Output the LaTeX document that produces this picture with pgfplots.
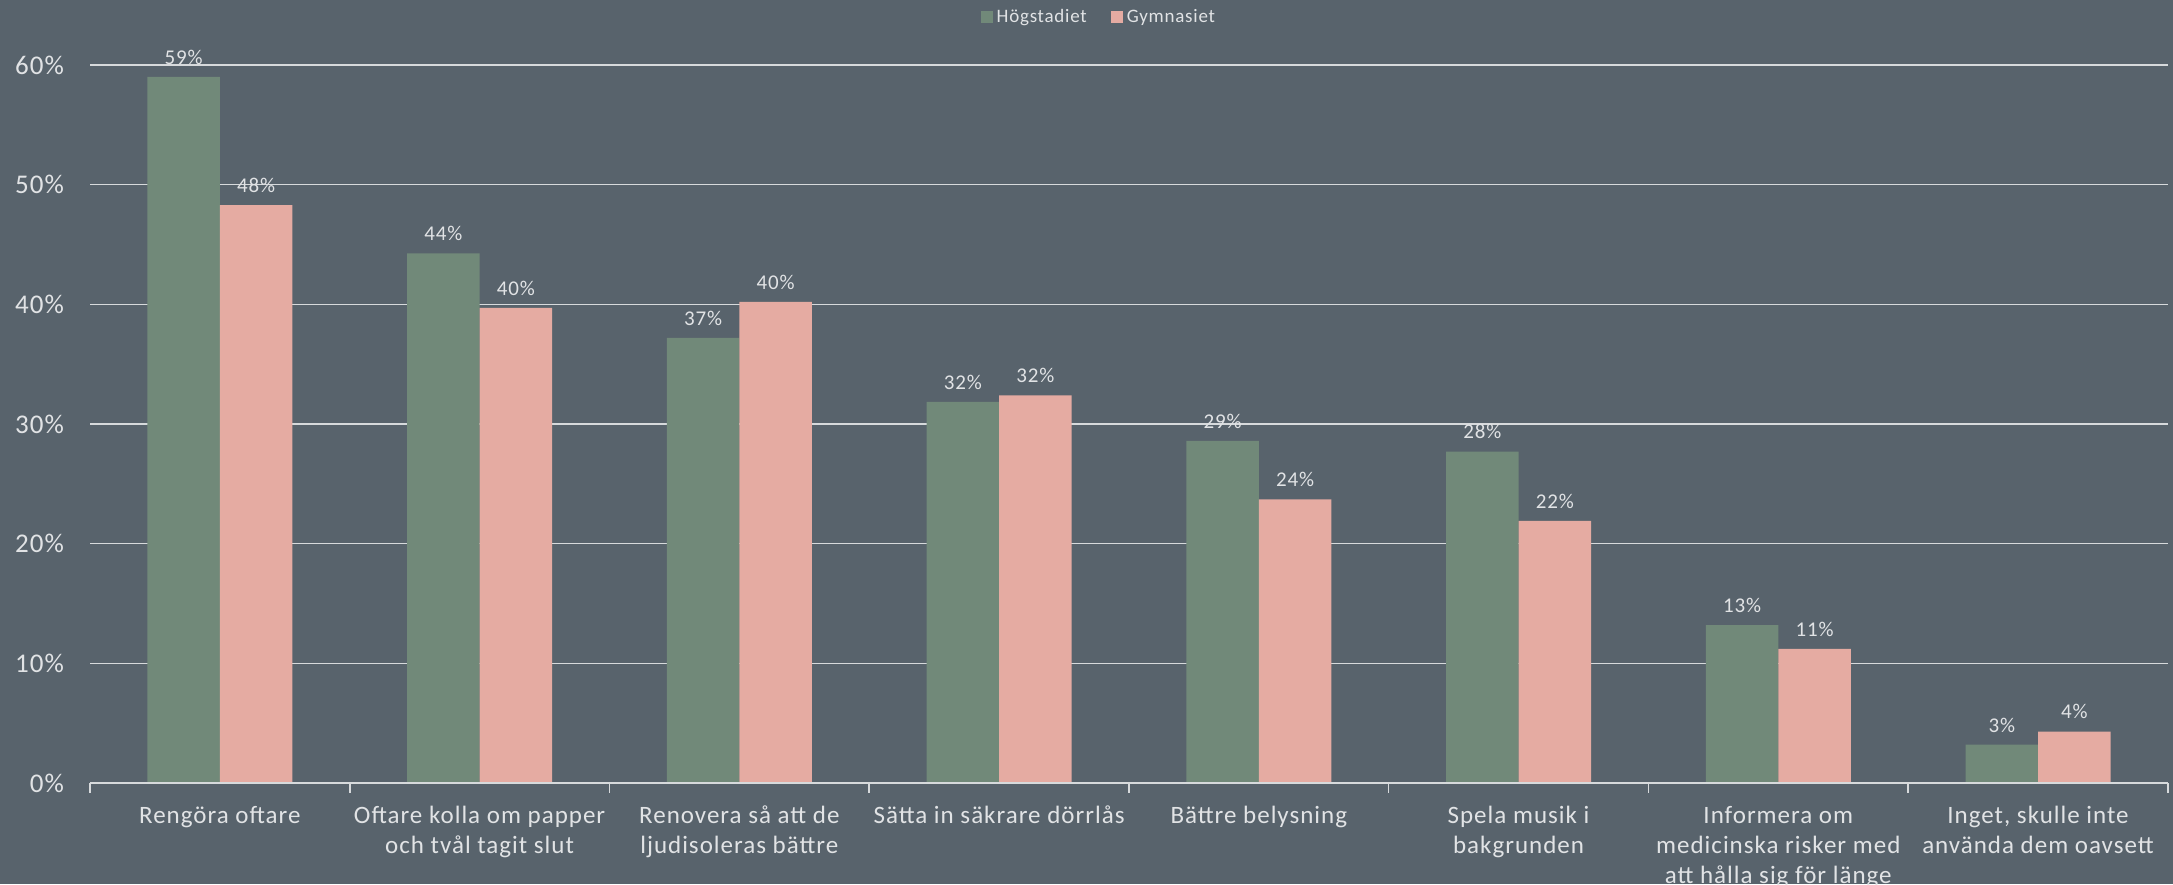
\documentclass[border=0pt]{standalone}
\usepackage{fontspec}
\setmainfont{Carlito}[LetterSpace=4]
\usepackage{pgfplots}
\pgfplotsset{compat=1.18}
\definecolor{bg}{RGB}{88,99,108}
\definecolor{hog}{RGB}{113,137,121}
\definecolor{gym}{RGB}{229,171,162}
\definecolor{txt}{RGB}{225,227,229}
\definecolor{gridc}{RGB}{215,218,220}
\begin{document}
\begin{tikzpicture}
\useasboundingbox (0,0) rectangle (1086.5pt,442pt);
\fill[bg] (0,0) rectangle (1086.5pt,442pt);
\begin{axis}[
  at={(45pt,50.5pt)}, anchor=south west,
  scale only axis, width=1039pt, height=359pt,
  xmin=-0.5, xmax=7.5, ymin=0, ymax=60,
  ybar=0pt, bar width=36.25pt,
  axis line style={draw=none},
  xtick={0,...,7},
  xticklabels={{Rengöra oftare},{Oftare kolla om papper\\och tvål tagit slut},{Renovera så att de\\ljudisoleras bättre},{Sätta in säkrare dörrlås},{Bättre belysning},{Spela musik i\\bakgrunden},{Informera om\\medicinska risker med\\att hålla sig för länge},{Inget, skulle inte\\använda dem oavsett}},
  minor xtick={-0.5,0.5,...,7.5},
  xtick pos=lower, ytick pos=left,
  major tick length=0pt, minor tick length=5pt, tick align=outside,
  minor tick style={gridc, line width=0.8pt},
  ytick={0,10,...,60},
  yticklabel={\pgfmathprintnumber{\tick}\%},
  /pgf/number format/assume math mode=true,
  ymajorgrids, major grid style={gridc, line width=0.8pt},
  xticklabel style={align=center, font=\fontsize{12.5}{15}\selectfont, text=txt, anchor=north, yshift=-8pt},
  yticklabel style={font=\fontsize{13.5}{16}\selectfont, text=txt, anchor=east, xshift=-9.5pt},
  nodes near coords={\pgfmathprintnumber[fixed,precision=0]{\pgfplotspointmeta}\%},
  nodes near coords style={font=\fontsize{10.5}{12}\selectfont, text=txt, anchor=south, inner sep=2pt, yshift=4pt},
  legend style={at={(0.486,1)}, anchor=center, yshift=24pt, draw=none, fill=none, text=txt, font=\fontsize{9.5}{11}\selectfont, legend columns=2, /tikz/every even column/.append style={column sep=10pt}},
  legend image code/.code={\fill[#1] (0pt,-3pt) rectangle (6pt,3pt);},
]
\addplot[fill=hog, draw=none] coordinates {(0,59.0) (1,44.25) (2,37.2) (3,31.85) (4,28.6) (5,27.7) (6,13.2) (7,3.2)};
\addplot[fill=gym, draw=none] coordinates {(0,48.3) (1,39.7) (2,40.2) (3,32.4) (4,23.7) (5,21.9) (6,11.2) (7,4.3)};
\legend{Högstadiet, Gymnasiet}
\draw[gridc, line width=0.8pt] (axis cs:-0.5,0) -- (axis cs:7.5,0);
\end{axis}
\end{tikzpicture}
\end{document}
